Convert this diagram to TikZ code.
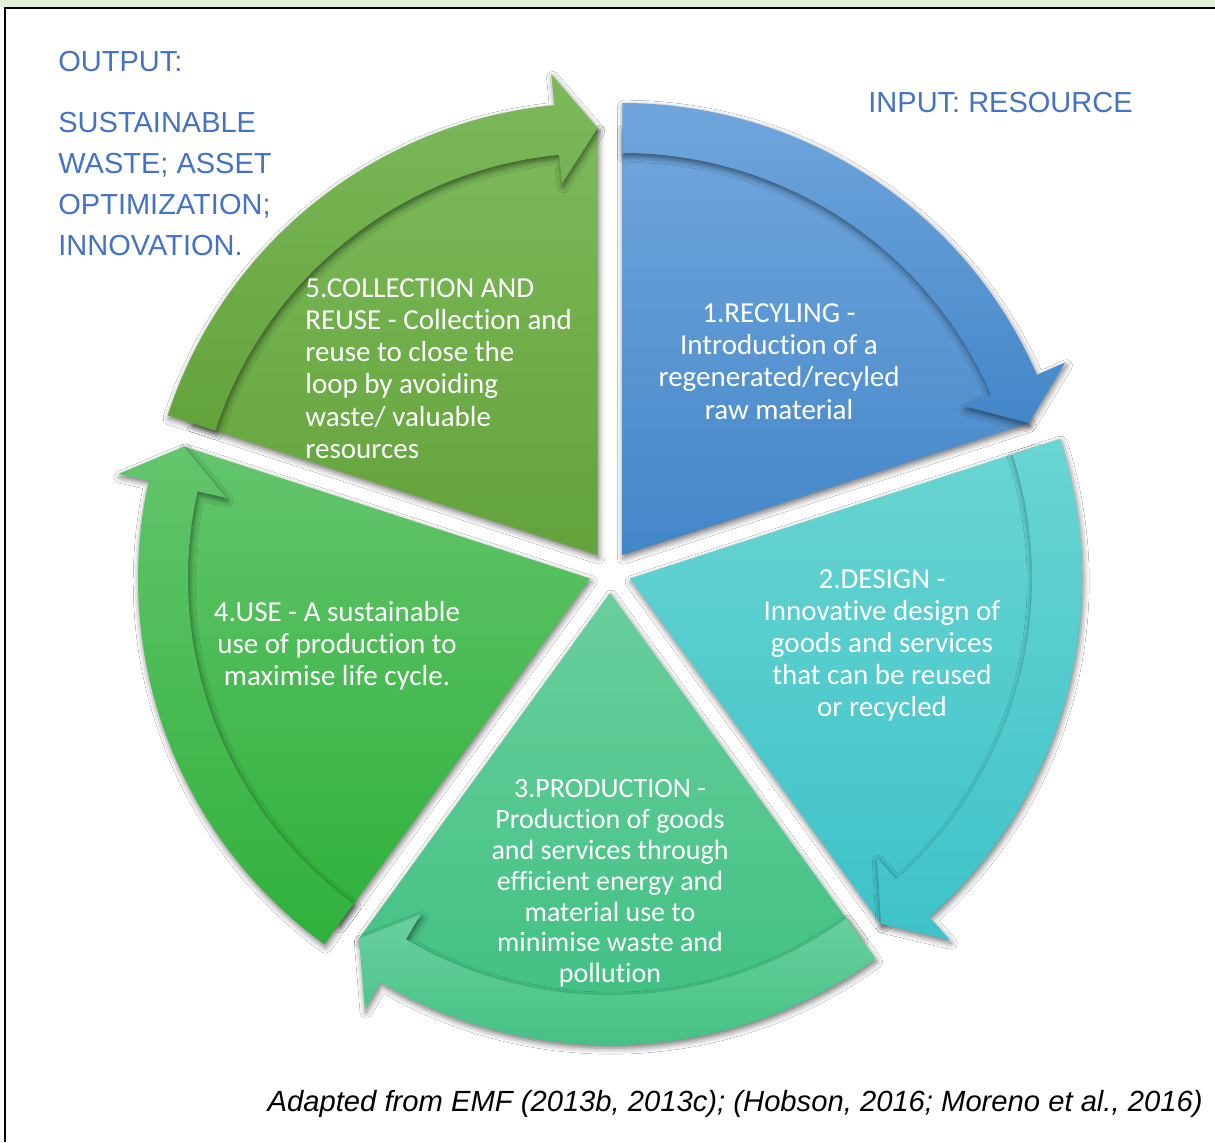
\documentclass[tikz,border=0pt]{standalone}
\usepackage{fontspec}
\setmainfont{Liberation Sans}
\newfontfamily\calibrifont[Ligatures=NoCommon]{Carlito}
\usetikzlibrary{calc,shadows.blur}

\definecolor{labelblue}{HTML}{4472C4}
\definecolor{stripgreen}{HTML}{E2EFDA}
\definecolor{bluetop}{HTML}{70A6DC}
\definecolor{bluebot}{HTML}{4386C8}
\definecolor{cyantop}{HTML}{68D5D1}
\definecolor{cyanbot}{HTML}{3EC2C9}
\definecolor{prodtop}{HTML}{69CF9D}
\definecolor{prodbot}{HTML}{3DBF80}
\definecolor{usetop}{HTML}{63C56C}
\definecolor{usebot}{HTML}{2FB13B}
\definecolor{coltop}{HTML}{7DB95B}
\definecolor{colbot}{HTML}{63A33A}

\begin{document}
\begin{tikzpicture}[x=0.5pt,y=0.5pt,
  segtext/.style={text=white, inner sep=0pt,
    font=\calibrifont\fontsize{14.5pt}{16.1pt}\selectfont},
  outlabel/.style={text=labelblue, inner sep=0pt,
    font=\fontsize{14.5pt}{20.5pt}\selectfont},
  segshadow/.style={blur shadow={shadow xshift=0.6pt, shadow yshift=-1.6pt,
    shadow blur radius=3pt, shadow opacity=55}},
]
\useasboundingbox (0,0) rectangle (1215,1142);
\fill[white] (0,0) rectangle (1215,1142);

% page frame: pale strip on top, rule below it and on the left
\fill[stripgreen] (0,1135) rectangle (1215,1142);
\draw[line width=1pt] (1215,1134.2) -- (5.3,1134.2) -- (5.3,0);

% centre of the cycle
\coordinate (C) at (610,570);

% five segments: wedge plus curved arrow along its rim
\foreach \a/\ct/\cb [count=\i] in {54/bluetop/bluebot, -18/cyantop/cyanbot,
    -90/prodtop/prodbot, -162/usetop/usebot, 126/coltop/colbot} {
  \pgfmathsetmacro\s{\a+36}
  \pgfmathsetmacro\e{\a-36}
  \pgfmathsetmacro\h{\a-36+5.5}
  \coordinate (A\i) at ($(C)+(\a:21)$);
  \shade[segshadow, top color=\ct, bottom color=\cb]
    (A\i) -- ($(A\i)+(\s:427)$) arc[start angle=\s, end angle=\e, radius=427] -- cycle;
  \shade[segshadow, top color=\ct, bottom color=\cb]
    ($(A\i)+(\s:452)$) arc[start angle=\s, end angle=\h, radius=452]
    -- ($(A\i)+(\h:483)$) -- ($(A\i)+(\e:427)$) -- ($(A\i)+(\h:373)$)
    -- ($(A\i)+(\h:402)$) arc[start angle=\h, end angle=\s, radius=402] -- cycle;
}

% segment texts
\node[segtext, align=center] (t1) at (779,780.5)
  {1.RECYLING -\\Introduction of a\\regenerated/recyled\\raw material};
\node[segtext, align=center] (t2) at (882,496.5)
  {2.DESIGN -\\Innovative design of\\goods and services\\that can be reused\\or recycled};
\node[segtext, align=center, font=\calibrifont\fontsize{14pt}{15.4pt}\selectfont] (t3) at (610,258.5)
  {3.PRODUCTION -\\Production of goods\\and services through\\efficient energy and\\material use to\\minimise waste and\\pollution};
\node[segtext, align=center] (t4) at (337,496)
  {4.USE - A sustainable\\use of production to\\maximise life cycle.};
\node[segtext, align=left, anchor=west] (t5) at (305,773.5)
  {5.COLLECTION AND\\REUSE - Collection and\\reuse to close the\\loop by avoiding\\waste/ valuable\\resources};

% input / output labels
\node[outlabel, anchor=base west] (outhead) at (58,1070) {OUTPUT:};
\node[outlabel, align=left, anchor=north west] (outtext) at (58,1030)
  {SUSTAINABLE\\WASTE; ASSET\\OPTIMIZATION;\\INNOVATION.};
\node[outlabel, anchor=base west] (inhead) at (868,1029) {INPUT: RESOURCE};

% source line
\node[inner sep=0pt, anchor=base east, font=\itshape\fontsize{14.6pt}{17pt}\selectfont] (source) at (1203,31)
  {Adapted from EMF (2013b, 2013c); (Hobson, 2016; Moreno et al., 2016)};
\end{tikzpicture}
\end{document}
